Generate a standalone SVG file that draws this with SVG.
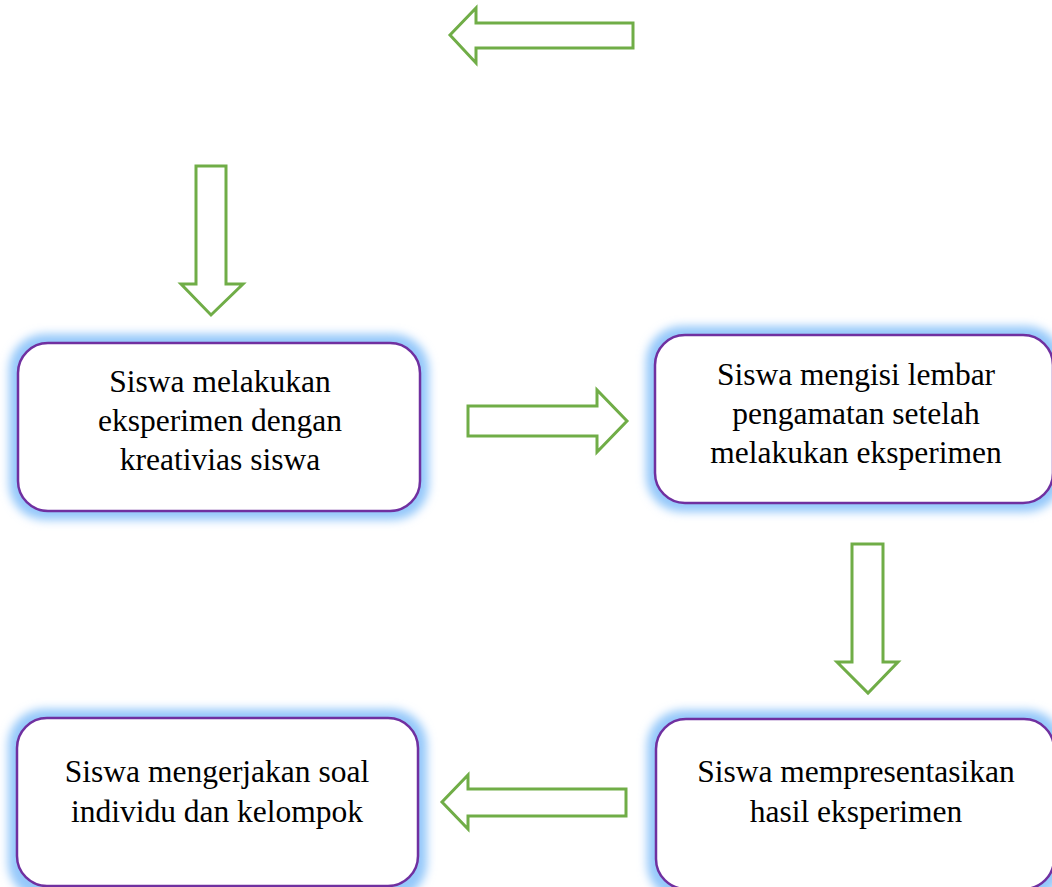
<svg xmlns="http://www.w3.org/2000/svg" width="1052" height="887" viewBox="0 0 1052 887">
<style>
.glow{fill:#94c8fa;filter:url(#blur)}
.box{fill:#ffffff;stroke:#7030a0;stroke-width:2.5}
.arrow{fill:#ffffff;stroke:#70ad47;stroke-width:3;stroke-linejoin:miter}
text{font-family:"Liberation Serif","Times New Roman",serif;font-size:31.5px;fill:#000;text-anchor:middle}
</style>
<defs>
<filter id="blur" x="-20%" y="-30%" width="140%" height="160%">
<feGaussianBlur stdDeviation="5"/>
</filter>
</defs>
<rect width="1052" height="887" fill="#ffffff"/>
<g id="connectors">
<polygon class="arrow" points="633,23 476,23 476,8 450,35 476,63 476,48 633,48"/>
<polygon class="arrow" points="196,166 226,166 226,284 243,284 211,315 181,284 196,284"/>
<polygon class="arrow" points="468,406 597,406 597,390 627,421 597,452 597,436 468,436"/>
<polygon class="arrow" points="852,544 883,544 883,662 898,662 868,693 837,662 852,662"/>
<polygon class="arrow" points="626,789 468,789 468,775 442,802 468,829 468,816 626,816"/>
</g>
<g id="node1">
<rect class="glow" x="9" y="334" width="420" height="186" rx="36"/>
<rect class="box" x="18" y="343" width="402" height="168" rx="30"/>
<text x="220" y="392">Siswa melakukan</text>
<text x="220" y="431">eksperimen dengan</text>
<text x="220" y="470">kreativias siswa</text>
</g>
<g id="node2">
<rect class="glow" x="646" y="326" width="416" height="186" rx="36"/>
<rect class="box" x="655" y="335" width="398" height="168" rx="30"/>
<text x="856" y="385">Siswa mengisi lembar</text>
<text x="856" y="424">pengamatan setelah</text>
<text x="856" y="463">melakukan eksperimen</text>
</g>
<g id="node3">
<rect class="glow" x="647" y="710" width="416" height="190" rx="36"/>
<rect class="box" x="656" y="719" width="398" height="170" rx="30"/>
<text x="856" y="782">Siswa mempresentasikan</text>
<text x="856" y="822">hasil eksperimen</text>
</g>
<g id="node4">
<rect class="glow" x="8" y="709" width="419" height="190" rx="36"/>
<rect class="box" x="17" y="718" width="401" height="168" rx="30"/>
<text x="217" y="782">Siswa mengerjakan soal</text>
<text x="217" y="822">individu dan kelompok</text>
</g>
</svg>
